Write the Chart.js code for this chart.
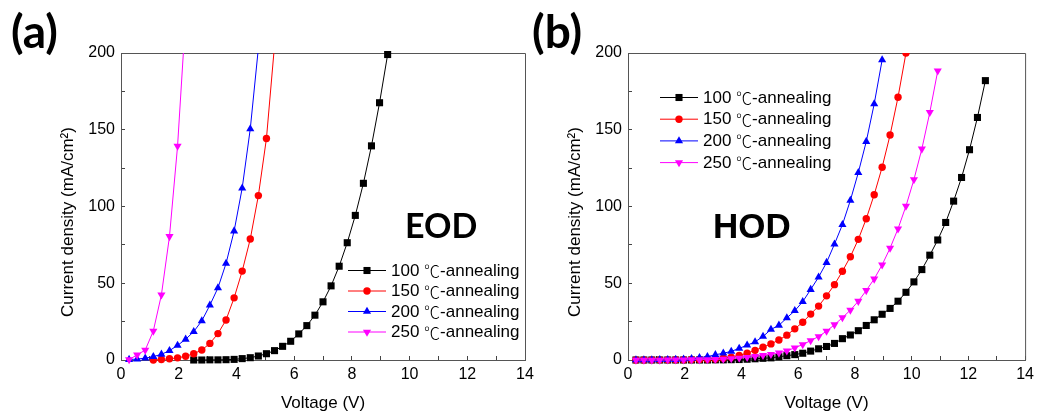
<!DOCTYPE html>
<html>
<head>
<meta charset="utf-8">
<title>Current density vs voltage - EOD / HOD</title>
<script src="https://cdn.jsdelivr.net/npm/chart.js@4.4.1/dist/chart.umd.min.js"></script>
<style>
  html, body { margin: 0; padding: 0; background: #fff; }
  #wrap { position: relative; width: 1043px; height: 414px; }
  #wrap canvas { position: absolute; left: 0; top: 0; }
</style>
</head>
<body>
<div id="wrap">
  <canvas id="eod" width="1043" height="414"></canvas>
  <canvas id="hod" width="1043" height="414"></canvas>
</div>
<script>
// legend labels
const seriesLabels = ["100 ℃-annealing", "150 ℃-annealing", "200 ℃-annealing", "250 ℃-annealing"];

// axis ticks
const xTicks = [0, 2, 4, 6, 8, 10, 12, 14];
const yTicks = [0, 50, 100, 150, 200];

// (a) EOD, voltage (V) / current density (mA/cm2)
const eodV100 = [2.52, 2.80, 3.08, 3.36, 3.64, 3.92, 4.20, 4.48, 4.76, 5.04, 5.32, 5.60, 5.88, 6.16, 6.44, 6.72, 7.00, 7.28, 7.56, 7.84, 8.12, 8.40, 8.68, 8.96, 9.24];
const eodJ100 = [0, 0, 0.1, 0.1, 0.2, 0.4, 0.9, 1.5, 2.6, 4.1, 6.1, 8.9, 12.2, 17.0, 22.4, 29.2, 37.9, 48.3, 61.1, 76.4, 94.2, 115.1, 139.5, 167.6, 199];
const eodV150 = [1.12, 1.40, 1.68, 1.96, 2.24, 2.52, 2.80, 3.08, 3.36, 3.64, 3.92, 4.20, 4.48, 4.76, 5.04, 5.32];
const eodJ150 = [0, 0.3, 0.8, 1.4, 2.4, 4.1, 6.5, 10.8, 17.2, 26.1, 40.5, 57.9, 78.8, 107.1, 144.3, 205];
const eodV200 = [0.28, 0.56, 0.84, 1.12, 1.40, 1.68, 1.96, 2.24, 2.52, 2.80, 3.08, 3.36, 3.64, 3.92, 4.20, 4.48, 4.76];
const eodJ200 = [0.3, 0.6, 1.2, 2.2, 3.7, 6.1, 9.5, 13.5, 18.5, 25.5, 35.7, 47.0, 62.9, 84.0, 112.0, 150.6, 203];
const eodV250 = [0.28, 0.56, 0.84, 1.12, 1.40, 1.68, 1.96, 2.24];
const eodJ250 = [0.3, 3.3, 6.5, 18.9, 42.4, 80.5, 139.3, 224];

// (b) HOD, all curves share the same voltage sweep
const hodV = [0.28, 0.56, 0.84, 1.12, 1.40, 1.68, 1.96, 2.24, 2.52, 2.80, 3.08, 3.36, 3.64, 3.92, 4.20,
  4.48, 4.76, 5.04, 5.32, 5.60, 5.88, 6.16, 6.44, 6.72, 7.00, 7.28, 7.56, 7.84, 8.12, 8.40,
  8.68, 8.96, 9.24, 9.52, 9.80, 10.08, 10.36, 10.64, 10.92, 11.20, 11.48, 11.76, 12.04, 12.32, 12.60];
const hodJ100 = [0, 0, 0, 0, 0, 0, 0, 0, 0, 0, 0.1, 0.1, 0.2, 0.3, 0.5,
  0.8, 1.1, 1.4, 2.1, 2.8, 3.5, 4.4, 5.8, 7.3, 8.8, 10.8, 13.9, 16.3, 19.1, 22.5,
  26.2, 29.8, 33.6, 38.3, 44.1, 50.9, 58.9, 68.3, 78.2, 89.6, 103.5, 118.9, 137.0, 158.0, 182.0];
const hodJ150 = [0, 0, 0.1, 0.1, 0.1, 0.2, 0.2, 0.3, 0.4, 0.5, 0.7, 1.1, 1.8, 3.0, 4.4,
  6.3, 8.3, 10.5, 13.0, 16.2, 20.3, 24.6, 29.9, 35.1, 41.8, 49.1, 57.8, 67.3, 78.6, 92.0,
  107.7, 125.6, 146.6, 171.2, 200];
const hodJ200 = [0.1, 0.1, 0.1, 0.2, 0.2, 0.3, 0.5, 0.8, 1.5, 2.2, 3.4, 4.4, 5.6, 7.6, 9.6,
  11.8, 15.3, 19.9, 22.6, 27.4, 32.1, 38.0, 45.9, 54.0, 63.5, 75.5, 88.2, 104.0, 122.1, 142.3,
  166.8, 195.5];
const hodJ250 = [0, 0, 0, 0, 0.1, 0.1, 0.1, 0.2, 0.2, 0.3, 0.4, 0.6, 0.9, 1.3, 1.7,
  2.3, 3.0, 3.7, 4.6, 6.0, 7.9, 10.1, 12.6, 15.3, 18.8, 23.0, 27.6, 32.5, 38.3, 45.3,
  52.8, 62.0, 72.9, 85.5, 100.3, 117.5, 137.5, 161.3, 188.4];

const FONT = "'Liberation Sans', Arial, sans-serif";
const CJK = "'Noto Sans CJK SC', sans-serif";

// marker / colour per annealing temperature
const looks = [
  { color: "#000000", pointStyle: "rect", radius: 5, rotation: 0 },
  { color: "#ff0000", pointStyle: "circle", radius: 3.7, rotation: 0 },
  { color: "#0000ff", pointStyle: "triangle", radius: 4.7, rotation: 0 },
  { color: "#ff00ff", pointStyle: "triangle", radius: 4.7, rotation: 180 },
];

function series(i, xs, ys, topClip) {
  const lk = looks[i];
  return {
    label: seriesLabels[i],
    data: ys.map((y, k) => ({ x: xs[k], y: y })),
    borderColor: lk.color,
    backgroundColor: lk.color,
    pointBackgroundColor: lk.color,
    pointBorderWidth: 0,
    borderWidth: 1,
    pointStyle: lk.pointStyle,
    pointRadius: lk.radius,
    pointRotation: lk.rotation,
    tension: 0,
    order: 4 - i, // origin draws the last curve on top
    clip: { left: 10, right: 10, top: topClip || 0, bottom: 10 },
  };
}

// label text with the degree sign taken from the CJK font, like the original
function drawLabel(ctx, text, x, y) {
  const parts = text.split("℃");
  ctx.font = "17px " + FONT;
  ctx.fillText(parts[0], x, y);
  x += ctx.measureText(parts[0]).width;
  if (parts.length > 1) {
    ctx.font = "300 16px " + CJK;
    ctx.fillText("℃", x, y);
    x += ctx.measureText("℃").width;
    ctx.font = "17px " + FONT;
    ctx.fillText(parts[1], x, y);
  }
}

// frame, panel letter, device tag, y title and the inset legend
const figureText = {
  id: "figureText",
  beforeDatasetsDraw(chart) {
    const a = chart.chartArea;
    const ctx = chart.ctx;
    ctx.save();
    ctx.strokeStyle = "#555";
    ctx.lineWidth = 1;
    ctx.beginPath();
    ctx.moveTo(a.left, a.top + 0.5);
    ctx.lineTo(a.right + 0.5, a.top + 0.5);
    ctx.lineTo(a.right + 0.5, a.bottom);
    ctx.stroke();
    ctx.restore();
  },
  afterDraw(chart, args, o) {
    const a = chart.chartArea;
    const ctx = chart.ctx;
    ctx.save();
    ctx.fillStyle = "#000";
    ctx.textAlign = "left";
    ctx.textBaseline = "alphabetic";
    ctx.font = "bold 46px Lato";
    ctx.fillText(o.panel, o.panelX, 48);
    ctx.font = o.tagFont;
    ctx.fillText(o.tag, o.tagX, 238);

    ctx.save();
    ctx.translate(a.left - 53, 222);
    ctx.rotate(-Math.PI / 2);
    ctx.textAlign = "center";
    ctx.textBaseline = "middle";
    ctx.font = "17px " + FONT;
    ctx.fillText("Current density (mA/cm²)", 0, 0);
    ctx.restore();

    chart.data.datasets.forEach((ds, i) => {
      const y = o.legendY + i * o.legendGap;
      ctx.strokeStyle = ds.borderColor;
      ctx.lineWidth = 1;
      ctx.beginPath();
      ctx.moveTo(o.legendX, y + 0.5);
      ctx.lineTo(o.legendX + 38, y + 0.5);
      ctx.stroke();
      ctx.fillStyle = ds.pointBackgroundColor;
      Chart.helpers.drawPoint(ctx, {
        pointStyle: ds.pointStyle,
        radius: ds.pointRadius,
        rotation: ds.pointRotation,
        borderWidth: 0,
      }, o.legendX + 19, y + 0.5);
      ctx.fillStyle = "#000";
      ctx.textAlign = "left";
      ctx.textBaseline = "middle";
      drawLabel(ctx, ds.label, o.legendX + 43, y + 1);
    });
    ctx.restore();
  },
};

function makeChart(id, datasets, box, text) {
  return new Chart(document.getElementById(id), {
    type: "line",
    data: { datasets },
    plugins: [figureText],
    options: {
      responsive: false,
      animation: false,
      devicePixelRatio: 1,
      layout: { padding: { left: box.padLeft, right: box.padRight, top: 53, bottom: 0 } },
      plugins: {
        legend: { display: false },
        tooltip: { enabled: false },
        figureText: text,
      },
      scales: {
        x: {
          type: "linear",
          min: 0,
          max: 14,
          afterFit: (s) => { s.height = 54; },
          ticks: {
            stepSize: 1,
            autoSkip: false,
            maxRotation: 0,
            padding: 9,
            color: "#000",
            font: { family: FONT, size: 16 },
            callback: (v) => (xTicks.includes(v) ? v : ""),
          },
          grid: { drawOnChartArea: false, drawTicks: true, tickLength: -4, tickColor: "#444" },
          border: { display: true, color: "#555", width: 1 },
          title: {
            display: true,
            text: "Voltage (V)",
            color: "#000",
            font: { family: FONT, size: 17 },
            padding: { top: 0, bottom: 0 },
          },
        },
        y: {
          type: "linear",
          min: 0,
          max: 200,
          afterFit: (s) => { s.width = box.yWidth; },
          ticks: {
            stepSize: 25,
            autoSkip: false,
            padding: 10,
            color: "#000",
            font: { family: FONT, size: 16 },
            callback: (v) => (yTicks.includes(v) ? v : ""),
          },
          grid: { drawOnChartArea: false, drawTicks: true, tickLength: -4, tickColor: "#444" },
          border: { display: true, color: "#555", width: 1 },
        },
      },
    },
  });
}

makeChart(
  "eod",
  [
    series(0, eodV100, eodJ100, 6),
    series(1, eodV150, eodJ150),
    series(2, eodV200, eodJ200),
    series(3, eodV250, eodJ250),
  ],
  { padLeft: 0, padRight: 518, yWidth: 121 },
  { panel: "(a)", panelX: 11, tag: "EOD", tagX: 405, tagFont: "bold 34px Lato",
    legendX: 348, legendY: 270, legendGap: 20.5 }
);

makeChart(
  "hod",
  [
    series(0, hodV, hodJ100),
    series(1, hodV, hodJ150),
    series(2, hodV, hodJ200),
    series(3, hodV, hodJ250),
  ],
  { padLeft: 520, padRight: 13, yWidth: 108 },
  { panel: "(b)", panelX: 532, tag: "HOD", tagX: 713, tagFont: "bold 35px 'Liberation Sans'",
    legendX: 660, legendY: 97, legendGap: 21.7 }
);
</script>
</body>
</html>
